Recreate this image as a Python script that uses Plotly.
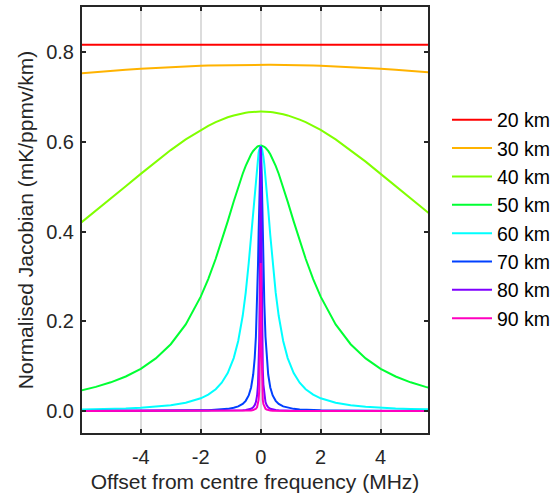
import plotly.graph_objects as go

# Frequency offset grid (MHz), denser near the line centre
offset_mhz = [
    -6.0, -5.5, -5.0, -4.5, -4.0, -3.5, -3.0, -2.5, -2.0, -1.75, -1.5, -1.3, -1.1, -0.9,
    -0.75, -0.6, -0.5, -0.4, -0.32, -0.25, -0.2, -0.16, -0.12, -0.09, -0.07, -0.05,
    -0.035, -0.02, -0.01, 0.0, 0.01, 0.02, 0.035, 0.05, 0.07, 0.09, 0.12, 0.16, 0.2,
    0.25, 0.32, 0.4, 0.5, 0.6, 0.75, 0.9, 1.1, 1.3, 1.5, 1.75, 2.0, 2.5, 3.0, 3.5,
    4.0, 4.5, 5.0, 5.5, 6.0,
]

altitudes = ["20 km", "30 km", "40 km", "50 km", "60 km", "70 km", "80 km", "90 km"]

jac_20km = [
    0.817, 0.817, 0.817, 0.8172, 0.8173, 0.8174, 0.8175, 0.8176, 0.8177, 0.8177, 0.8178,
    0.8178, 0.8178, 0.8179, 0.8179, 0.8179, 0.8179, 0.818, 0.818, 0.818, 0.818, 0.818,
    0.818, 0.818, 0.818, 0.818, 0.818, 0.818, 0.818, 0.818, 0.818, 0.818, 0.818, 0.818,
    0.818, 0.818, 0.818, 0.818, 0.818, 0.818, 0.818, 0.818, 0.8179, 0.8179, 0.8179,
    0.8179, 0.8178, 0.8178, 0.8178, 0.8177, 0.8177, 0.8176, 0.8175, 0.8174, 0.8173,
    0.8172, 0.817, 0.817, 0.817,
]

jac_30km = [
    0.7532, 0.7562, 0.7589, 0.7613, 0.7635, 0.7655, 0.7672, 0.7687, 0.7699, 0.7704,
    0.7708, 0.7711, 0.7714, 0.7716, 0.7717, 0.7718, 0.7719, 0.772, 0.772, 0.772, 0.772,
    0.772, 0.772, 0.772, 0.772, 0.772, 0.772, 0.772, 0.772, 0.772, 0.772, 0.772, 0.772,
    0.772, 0.772, 0.772, 0.772, 0.772, 0.772, 0.772, 0.772, 0.772, 0.7719, 0.7718,
    0.7717, 0.7716, 0.7714, 0.7711, 0.7708, 0.7704, 0.7699, 0.7687, 0.7672, 0.7655,
    0.7635, 0.7613, 0.7589, 0.7562, 0.7532,
]

jac_40km = [
    0.4196, 0.4462, 0.4735, 0.5012, 0.5289, 0.5561, 0.5819, 0.6058, 0.6268, 0.636,
    0.6442, 0.6499, 0.655, 0.6592, 0.6619, 0.6641, 0.6653, 0.6662, 0.6669, 0.6673,
    0.6675, 0.6677, 0.6678, 0.6679, 0.668, 0.668, 0.668, 0.668, 0.668, 0.668, 0.668,
    0.668, 0.668, 0.668, 0.668, 0.6679, 0.6678, 0.6677, 0.6675, 0.6673, 0.6669, 0.6662,
    0.6653, 0.6641, 0.6619, 0.6592, 0.655, 0.6499, 0.6442, 0.636, 0.6268, 0.6058,
    0.5819, 0.5561, 0.5289, 0.5012, 0.4735, 0.4462, 0.4196,
]

jac_50km = [
    0.0459, 0.0539, 0.064, 0.077, 0.0942, 0.1173, 0.149, 0.1932, 0.2551, 0.2943, 0.3396,
    0.3799, 0.4229, 0.4671, 0.4992, 0.5291, 0.5468, 0.5623, 0.5726, 0.58, 0.5843, 0.587,
    0.5892, 0.5904, 0.591, 0.5915, 0.5918, 0.5919, 0.592, 0.592, 0.592, 0.5919, 0.5918,
    0.5915, 0.591, 0.5904, 0.5892, 0.587, 0.5843, 0.58, 0.5726, 0.5623, 0.5468, 0.5291,
    0.4992, 0.4671, 0.4229, 0.3799, 0.3396, 0.2943, 0.2551, 0.1932, 0.149, 0.1173,
    0.0942, 0.077, 0.064, 0.0539, 0.0459,
]

jac_60km = [
    0.0033, 0.0039, 0.0047, 0.0058, 0.0074, 0.0096, 0.013, 0.0185, 0.0284, 0.0366,
    0.0487, 0.0631, 0.0846, 0.118, 0.1562, 0.2124, 0.264, 0.3296, 0.3919, 0.4509,
    0.4927, 0.5238, 0.5508, 0.5673, 0.5761, 0.5828, 0.5865, 0.5888, 0.5897, 0.59,
    0.5897, 0.5888, 0.5865, 0.5828, 0.5761, 0.5673, 0.5508, 0.5238, 0.4927, 0.4509,
    0.3919, 0.3296, 0.264, 0.2124, 0.1562, 0.118, 0.0846, 0.0631, 0.0487, 0.0366,
    0.0284, 0.0185, 0.013, 0.0096, 0.0074, 0.0058, 0.0047, 0.0039, 0.0033,
]

jac_70km = [
    0.0002, 0.0002, 0.0002, 0.0003, 0.0004, 0.0005, 0.0007, 0.0009, 0.0015, 0.0019,
    0.0026, 0.0035, 0.0048, 0.0072, 0.0103, 0.0159, 0.0227, 0.0347, 0.0525, 0.0814,
    0.118, 0.1657, 0.2418, 0.326, 0.396, 0.472, 0.5256, 0.5673, 0.5842, 0.59, 0.5842,
    0.5673, 0.5256, 0.472, 0.396, 0.326, 0.2418, 0.1657, 0.118, 0.0814, 0.0525, 0.0347,
    0.0227, 0.0159, 0.0103, 0.0072, 0.0048, 0.0035, 0.0026, 0.0019, 0.0015, 0.0009,
    0.0007, 0.0005, 0.0004, 0.0003, 0.0002, 0.0002, 0.0002,
]

jac_80km = [
    0.0, 0.0, 0.0, 0.0, 0.0, 0.0001, 0.0001, 0.0001, 0.0001, 0.0002, 0.0002, 0.0003,
    0.0004, 0.0007, 0.0009, 0.0015, 0.0021, 0.0033, 0.0051, 0.0084, 0.013, 0.02, 0.0347,
    0.059, 0.0916, 0.1562, 0.2499, 0.4085, 0.531, 0.59, 0.531, 0.4085, 0.2499, 0.1562,
    0.0916, 0.059, 0.0347, 0.02, 0.013, 0.0084, 0.0051, 0.0033, 0.0021, 0.0015, 0.0009,
    0.0007, 0.0004, 0.0003, 0.0002, 0.0002, 0.0001, 0.0001, 0.0001, 0.0001, 0.0, 0.0,
    0.0, 0.0, 0.0,
]

jac_90km = [
    0.0, 0.0, 0.0, 0.0, 0.0, 0.0, 0.0, 0.0, 0.0, 0.0, 0.0001, 0.0001, 0.0001, 0.0002,
    0.0002, 0.0004, 0.0005, 0.0008, 0.0013, 0.0021, 0.0033, 0.0051, 0.0089, 0.0155,
    0.0249, 0.0455, 0.0812, 0.165, 0.264, 0.33, 0.264, 0.165, 0.0812, 0.0455, 0.0249,
    0.0155, 0.0089, 0.0051, 0.0033, 0.0021, 0.0013, 0.0008, 0.0005, 0.0004, 0.0002,
    0.0002, 0.0001, 0.0001, 0.0001, 0.0, 0.0, 0.0, 0.0, 0.0, 0.0, 0.0, 0.0, 0.0, 0.0,
]

series = [jac_20km, jac_30km, jac_40km, jac_50km, jac_60km, jac_70km, jac_80km, jac_90km]
line_colors = ["#FF0000", "#FFB300", "#80FF00", "#00FF33", "#00FFFF", "#0040FF", "#7F00FF", "#FF00BF"]

x_ticks = [-4, -2, 0, 2, 4]
y_ticks = [0.0, 0.2, 0.4, 0.6, 0.8]

FONT = "Liberation Sans, Arial, sans-serif"
INK = "#262626"

fig = go.Figure()
for name, values, color in zip(altitudes, series, line_colors):
    fig.add_trace(go.Scatter(
        x=offset_mhz, y=values, mode="lines", name=name,
        line=dict(color=color, width=2),
    ))

fig.update_layout(
    width=555, height=497,
    margin=dict(l=82, r=127, t=7, b=64, autoexpand=False),
    paper_bgcolor="white", plot_bgcolor="white",
    font=dict(family=FONT, size=20, color=INK),
    showlegend=True,
    legend=dict(
        x=0.8054, y=0.7976, xref="container", yref="container",
        xanchor="left", yanchor="top",
        font=dict(family=FONT, size=19.5, color="black"),
        bgcolor="rgba(0,0,0,0)", borderwidth=0,
        itemwidth=40, tracegroupgap=0,
    ),
)

fig.update_xaxes(
    range=[-5.96, 5.58], tickvals=x_ticks, ticktext=[str(v) for v in x_ticks],
    ticks="inside", ticklen=4, tickwidth=1.5, tickcolor=INK,
    showline=True, linecolor=INK, linewidth=2, mirror="ticks",
    showgrid=True, gridcolor="#DCDCDC", gridwidth=2, zeroline=False,
    tickfont=dict(size=20, color=INK), ticklabelstandoff=5,
    title=dict(text="Offset from centre frequency (MHz)", font=dict(size=21, color=INK), standoff=7),
)
fig.update_yaxes(
    range=[-0.049, 0.901], tickvals=y_ticks, tickformat=".1f",
    ticks="inside", ticklen=4, tickwidth=1.5, tickcolor=INK,
    showline=True, linecolor=INK, linewidth=2, mirror="ticks",
    showgrid=False, zeroline=False,
    tickfont=dict(size=20, color=INK), ticklabelstandoff=2,
    title=dict(text="Normalised Jacobian (mK/ppmv/km)", font=dict(size=21, color=INK), standoff=7),
)

fig.write_html("out.html")
